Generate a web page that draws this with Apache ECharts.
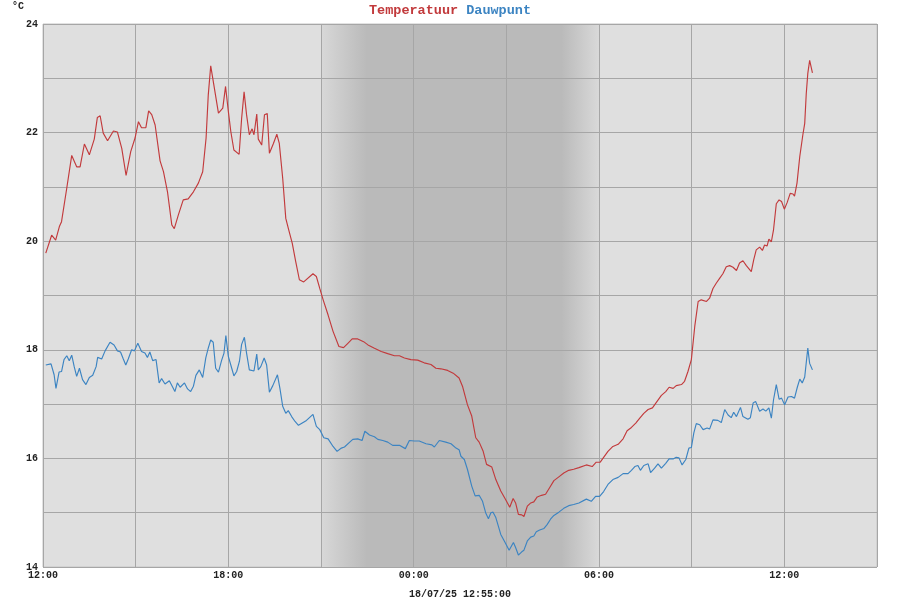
<!DOCTYPE html>
<html>
<head>
<meta charset="utf-8">
<script src="https://cdn.jsdelivr.net/npm/echarts@6/dist/echarts.min.js"></script>
<style>
html,body{margin:0;padding:0;background:#fff;}
#chart{width:900px;height:600px;}
</style>
</head>
<body>
<div id="chart"></div>
<script>
// hours after 17/07/25 12:00
const tempTime = [0.09,0.28,0.41,0.53,0.60,0.77,0.93,1.09,1.20,1.34,1.50,1.66,1.76,1.85,1.95,2.09,2.28,2.41,2.55,2.69,2.84,2.98,3.09,3.19,3.33,3.42,3.52,3.63,3.79,3.90,4.03,4.17,4.25,4.38,4.54,4.70,4.87,5.03,5.17,5.28,5.35,5.43,5.49,5.68,5.82,5.91,6.00,6.08,6.18,6.35,6.43,6.51,6.59,6.68,6.77,6.83,6.92,6.97,7.08,7.17,7.26,7.33,7.46,7.57,7.65,7.76,7.86,7.94,8.07,8.18,8.30,
8.44,8.74,8.85,8.96,9.07,9.23,9.39,9.58,9.73,9.87,10.01,10.19,10.38,10.52,10.73,10.95,11.16,11.38,11.54,11.70,11.91,12.13,12.34,12.56,12.72,12.88,13.10,13.28,13.47,13.58,13.74,13.88,14.01,14.12,14.25,14.36,14.53,14.66,14.82,14.98,15.11,15.22,15.30,15.39,15.50,15.57,15.68,15.79,15.89,16.00,16.14,16.27,16.40,16.54,16.70,16.86,17.02,17.18,17.35,
17.59,17.78,17.91,18.04,18.15,18.29,18.45,18.62,18.78,18.91,19.05,19.19,19.32,19.45,19.59,19.73,19.88,20.02,20.16,20.27,20.40,20.50,20.67,20.77,20.88,20.99,21.10,21.21,21.31,21.48,21.58,21.69,21.80,21.91,22.01,22.12,22.23,22.34,22.45,22.55,22.66,22.77,22.93,23.01,23.09,23.20,23.29,23.36,23.44,23.50,23.58,23.65,23.74,23.83,23.91,24.00,24.09,24.19,24.28,24.33,24.41,24.50,24.60,24.66,24.71,24.76,24.82,24.91];
const tempValues = [19.78,20.11,20.02,20.27,20.36,20.98,21.58,21.37,21.37,21.79,21.59,21.88,22.28,22.31,21.99,21.85,22.03,22.01,21.71,21.21,21.65,21.90,22.20,22.09,22.09,22.40,22.33,22.14,21.48,21.28,20.91,20.30,20.23,20.48,20.76,20.78,20.91,21.07,21.28,21.90,22.69,23.23,23.21,22.36,22.45,22.85,22.39,22.02,21.68,21.60,22.26,22.75,22.33,21.96,22.07,21.96,22.34,21.88,21.77,22.33,22.35,21.62,21.80,21.97,21.80,21.16,20.42,20.24,19.96,19.63,19.29,
19.25,19.40,19.35,19.13,18.92,18.64,18.34,18.06,18.04,18.12,18.20,18.20,18.15,18.09,18.03,17.97,17.93,17.89,17.89,17.85,17.82,17.81,17.76,17.73,17.66,17.65,17.62,17.57,17.48,17.33,16.99,16.78,16.38,16.30,16.13,15.89,15.84,15.61,15.40,15.24,15.10,15.26,15.18,14.97,14.96,14.93,15.12,15.18,15.20,15.29,15.32,15.34,15.46,15.59,15.66,15.73,15.78,15.80,15.83,
15.88,15.85,15.93,15.93,16.02,16.13,16.22,16.26,16.36,16.51,16.57,16.65,16.74,16.83,16.90,16.93,17.05,17.16,17.23,17.31,17.29,17.34,17.36,17.42,17.60,17.82,18.43,18.89,18.92,18.89,18.95,19.13,19.23,19.32,19.40,19.53,19.55,19.52,19.46,19.60,19.64,19.55,19.44,19.66,19.84,19.89,19.83,19.93,19.91,20.04,19.99,20.21,20.69,20.76,20.73,20.59,20.71,20.88,20.87,20.83,21.07,21.56,21.96,22.17,22.72,23.09,23.33,23.10];

const dewTime = [0.09,0.26,0.36,0.42,0.52,0.60,0.68,0.77,0.85,0.93,1.01,1.09,1.18,1.28,1.39,1.50,1.61,1.72,1.77,1.90,2.01,2.17,2.30,2.41,2.51,2.60,2.68,2.76,2.87,2.96,3.07,3.19,3.30,3.38,3.46,3.55,3.66,3.76,3.84,3.95,4.09,4.20,4.27,4.35,4.44,4.58,4.68,4.78,4.87,4.95,5.06,5.17,5.27,5.35,5.43,5.51,5.59,5.68,5.78,5.86,5.92,6.00,6.11,6.18,6.27,6.36,6.43,6.52,6.59,6.68,6.83,6.92,6.97,7.05,7.16,7.24,7.33,7.44,7.59,7.67,7.76,7.86,7.94,8.05,8.16,8.27,
8.53,8.74,8.85,8.96,9.09,9.23,9.39,9.52,9.58,9.66,9.76,9.93,10.03,10.19,10.33,10.42,10.57,10.73,10.84,11.00,11.16,11.32,11.54,11.73,11.86,12.02,12.18,12.40,12.59,12.67,12.83,13.04,13.21,13.37,13.47,13.53,13.64,13.74,13.88,13.99,14.12,14.23,14.33,14.42,14.50,14.57,14.66,14.82,14.96,15.09,15.15,15.23,15.30,15.39,15.50,15.57,15.68,15.79,15.89,15.97,16.08,16.22,16.32,16.43,16.54,16.70,16.86,17.02,17.18,17.35,
17.59,17.75,17.89,18.02,18.15,18.29,18.45,18.62,18.78,18.94,19.05,19.16,19.26,19.34,19.45,19.59,19.67,19.80,19.91,20.02,20.16,20.27,20.40,20.50,20.59,20.69,20.81,20.91,20.99,21.07,21.15,21.26,21.37,21.50,21.58,21.69,21.85,21.96,22.07,22.18,22.28,22.36,22.45,22.58,22.66,22.82,22.90,22.99,23.07,23.20,23.31,23.40,23.50,23.58,23.65,23.74,23.83,23.91,24.01,24.12,24.23,24.33,24.42,24.50,24.58,24.66,24.76,24.82,24.91];
const dewValues = [17.72,17.74,17.54,17.29,17.59,17.60,17.82,17.89,17.80,17.90,17.69,17.51,17.66,17.45,17.36,17.49,17.53,17.69,17.86,17.83,17.98,18.14,18.09,17.98,17.96,17.83,17.72,17.83,18.00,17.98,18.12,17.97,17.94,17.86,17.96,17.80,17.82,17.39,17.47,17.37,17.43,17.31,17.23,17.39,17.31,17.39,17.28,17.23,17.33,17.53,17.63,17.49,17.85,18.03,18.18,18.14,17.66,17.59,17.80,17.94,18.26,17.88,17.66,17.52,17.60,17.79,18.10,18.23,17.94,17.63,17.61,17.92,17.63,17.69,17.85,17.72,17.22,17.34,17.54,17.29,16.96,16.83,16.88,16.77,16.68,16.61,
16.70,16.81,16.59,16.53,16.38,16.36,16.22,16.13,16.10,16.19,16.21,16.30,16.35,16.36,16.33,16.50,16.43,16.40,16.35,16.33,16.30,16.24,16.24,16.18,16.33,16.32,16.32,16.27,16.25,16.21,16.33,16.30,16.27,16.19,16.16,16.04,15.98,15.80,15.49,15.31,15.32,15.21,15.00,14.89,15.00,15.01,14.91,14.60,14.45,14.31,14.33,14.45,14.36,14.22,14.28,14.31,14.48,14.55,14.57,14.65,14.68,14.71,14.78,14.88,14.95,15.01,15.08,15.13,15.15,15.18,
15.25,15.21,15.30,15.30,15.39,15.52,15.61,15.65,15.72,15.72,15.78,15.85,15.87,15.78,15.87,15.90,15.74,15.82,15.90,15.82,15.91,15.99,15.99,16.02,16.01,15.88,15.98,16.19,16.20,16.47,16.64,16.62,16.53,16.56,16.54,16.71,16.70,16.66,16.90,16.80,16.75,16.85,16.77,16.94,16.77,16.72,16.75,17.02,17.05,16.87,16.91,16.87,16.93,16.74,17.08,17.36,17.09,17.11,16.99,17.13,17.14,17.11,17.31,17.46,17.39,17.50,18.03,17.75,17.63];

const xTickHours = [0, 6, 12, 18, 24];
const xTickLabels = ['12:00', '18:00', '00:00', '06:00', '12:00'];
const yTickLabels = [14, 16, 18, 20, 22, 24];
const nightStart = 9;   // 21:00
const nightEnd = 18;    // 06:00
const stampText = '18/07/25 12:55:00';

const zip = (t, v) => t.map((x, i) => [x, v[i]]);
const mono = '"Liberation Mono", "DejaVu Sans Mono", monospace';

const chart = echarts.init(document.getElementById('chart'), null, {renderer: 'canvas'});
chart.setOption({
  animation: false,
  backgroundColor: '#ffffff',
  title: [
    {
      text: '{t|Temperatuur} {d|Dauwpunt}',
      left: 'center', top: -1,
      textStyle: {
        fontFamily: mono, fontSize: 13.5, fontWeight: 'bold',
        rich: {
          t: {color: '#c23a3c', fontFamily: mono, fontSize: 13.5, fontWeight: 'bold'},
          d: {color: '#3c84c2', fontFamily: mono, fontSize: 13.5, fontWeight: 'bold'}
        }
      }
    },
    {
      text: '°C', left: 7, top: -4,
      textStyle: {fontFamily: mono, fontSize: 10, fontWeight: 'bold', color: '#222'}
    }
  ],
  grid: {
    left: 43, right: 23, top: 24, bottom: 33,
    containLabel: false, outerBoundsMode: 'none',
    show: true, backgroundColor: '#dfdfdf', borderColor: '#c4c4c4', borderWidth: 1
  },
  xAxis: {
    type: 'value', min: 0, max: 27, interval: 3, z: 2,
    name: stampText, nameLocation: 'middle', nameGap: 22,
    nameTextStyle: {fontFamily: mono, fontSize: 10, fontWeight: 'bold', color: '#222'},
    axisLine: {show: false}, axisTick: {show: false},
    axisLabel: {
      margin: 3, fontFamily: mono, fontSize: 10, fontWeight: 'bold', color: '#222',
      showMinLabel: true, showMaxLabel: true,
      formatter: v => { const i = xTickHours.indexOf(v); return i >= 0 ? xTickLabels[i] : ''; }
    },
    splitLine: {show: true, lineStyle: {color: '#a6a6a6', width: 1}}
  },
  yAxis: {
    type: 'value', min: 14, max: 24, interval: 1, z: 2,
    axisLine: {show: false}, axisTick: {show: false},
    axisLabel: {
      margin: 5, fontFamily: mono, fontSize: 10, fontWeight: 'bold', color: '#222',
      showMinLabel: true, showMaxLabel: true,
      formatter: v => yTickLabels.indexOf(v) >= 0 ? String(v) : ''
    },
    splitLine: {show: true, lineStyle: {color: '#a6a6a6', width: 1}}
  },
  series: [
    {
      name: 'night', type: 'line', data: [], z: 1, silent: true,
      markArea: {
        silent: true,
        itemStyle: {
          color: new echarts.graphic.LinearGradient(0, 0, 1, 0, [
            {offset: 0, color: '#d8d8d8'},
            {offset: 0.165, color: '#bababa'},
            {offset: 0.865, color: '#bababa'},
            {offset: 1, color: '#d9d9d9'}
          ])
        },
        data: [[{xAxis: nightStart}, {xAxis: nightEnd}]]
      }
    },
    {
      name: 'Temperatuur', type: 'line', z: 3, showSymbol: false, symbol: 'none',
      lineStyle: {color: '#c23a3c', width: 1.15},
      data: zip(tempTime, tempValues)
    },
    {
      name: 'Dauwpunt', type: 'line', z: 3, showSymbol: false, symbol: 'none',
      lineStyle: {color: '#3c84c2', width: 1.15},
      data: zip(dewTime, dewValues)
    }
  ]
});
</script>
</body>
</html>
